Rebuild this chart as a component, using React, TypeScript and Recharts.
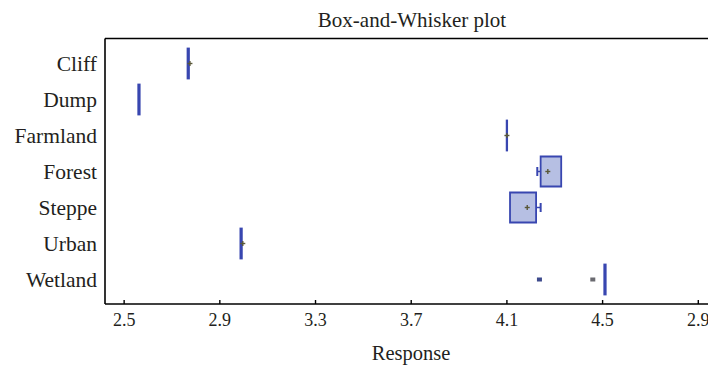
import React from 'react';
import { ComposedChart, Bar, Scatter, XAxis, YAxis } from 'recharts';

// habitat categories, top to bottom
const categories = ['Cliff', 'Dump', 'Farmland', 'Forest', 'Steppe', 'Urban', 'Wetland'];

// box edges (lower / upper quartile)
const q1 = [2.765, 2.559, 4.099, 4.241, 4.113, 2.986, 4.507];
const q3 = [2.771, 2.565, 4.101, 4.327, 4.222, 2.992, 4.513];

// whisker ends (equal to the box edge where no whisker shows)
const whiskerMin = [2.765, 2.559, 4.099, 4.227, 4.113, 2.986, 4.507];
const whiskerMax = [2.771, 2.565, 4.101, 4.327, 4.241, 2.992, 4.513];

// means and outliers
const means = [2.775, null, 4.1, 4.271, 4.185, 2.996, null];
const outlierA = [null, null, null, null, null, null, 4.236];
const outlierB = [null, null, null, null, null, null, 4.459];

const tickValues = [2.5, 2.9, 3.3, 3.7, 4.1, 4.5, 4.9];
const tickLabels = ['2.5', '2.9', '3.3', '3.7', '4.1', '4.5', '2.9'];

const BOX_FILL = '#b6bfe3';
const BOX_STROKE = '#3846b0';
const TEXT = '#231f20';
const FONT = '"Liberation Serif", "Times New Roman", serif';

// stacked segments: invisible base, lower whisker, box, upper whisker
const data = categories.map((name, i) => ({
  name,
  base: whiskerMin[i],
  lowW: q1[i] - whiskerMin[i],
  box: q3[i] - q1[i],
  highW: whiskerMax[i] - q3[i],
  mean: means[i],
  outA: outlierA[i],
  outB: outlierB[i],
}));

const LowWhisker = (props: any) => {
  const { x, y, width, height } = props;
  if (!width || width < 0.5) return <g />;
  const cy = y + height / 2;
  return (
    <g stroke={BOX_STROKE}>
      <line x1={x} x2={x + width} y1={cy} y2={cy} strokeWidth={1.5} />
      <line x1={x} x2={x} y1={cy - 4.5} y2={cy + 4.5} strokeWidth={2} />
    </g>
  );
};

const HighWhisker = (props: any) => {
  const { x, y, width, height } = props;
  if (!width || width < 0.5) return <g />;
  const cy = y + height / 2;
  return (
    <g stroke={BOX_STROKE}>
      <line x1={x} x2={x + width} y1={cy} y2={cy} strokeWidth={1.5} />
      <line x1={x + width} x2={x + width} y1={cy - 4.5} y2={cy + 4.5} strokeWidth={2} />
    </g>
  );
};

const MeanMark = (props: any) => {
  const { cx, cy } = props;
  if (cx == null || cy == null || isNaN(cx)) return <g />;
  return (
    <g stroke="#5a5838" strokeWidth={1.4}>
      <line x1={cx - 2.5} x2={cx + 2.5} y1={cy} y2={cy} />
      <line x1={cx} x2={cx} y1={cy - 2.5} y2={cy + 2.5} />
    </g>
  );
};

const OutlierMark = (props: any) => {
  const { cx, cy, fill } = props;
  if (cx == null || cy == null || isNaN(cx)) return <g />;
  return <rect x={cx - 2.5} y={cy - 2} width={5} height={4} fill={fill} />;
};

const tickStyle = { fill: TEXT, fontFamily: FONT, fontSize: 18 };

export default function App() {
  return (
    <div
      style={{
        position: 'fixed',
        left: 0,
        top: 0,
        width: 708,
        height: 366,
        overflow: 'hidden',
        background: '#fff',
      }}
    >
      <ComposedChart
        width={727}
        height={366}
        layout="vertical"
        data={data}
        margin={{ top: 0, right: 0, bottom: 0, left: 0 }}
        barSize={30}
      >
        <XAxis
          xAxisId="bottom"
          type="number"
          orientation="bottom"
          domain={[2.42, 5.02]}
          allowDataOverflow
          ticks={tickValues}
          tickFormatter={(v: number, i: number) => tickLabels[i]}
          height={62}
          tickSize={-4}
          tickMargin={13}
          axisLine={{ stroke: '#000', strokeWidth: 1.6 }}
          tickLine={{ stroke: '#000', strokeWidth: 1.4 }}
          tick={tickStyle}
          interval={0}
          label={{
            value: 'Response',
            position: 'insideBottom',
            offset: 6,
            dx: -5,
            style: { fill: TEXT, fontFamily: FONT, fontSize: 20.5 },
          }}
        />
        <XAxis
          xAxisId="top"
          type="number"
          orientation="top"
          domain={[2.42, 5.02]}
          allowDataOverflow
          ticks={tickValues}
          height={38.5}
          tickSize={-4}
          tick={false}
          axisLine={{ stroke: '#000', strokeWidth: 1.6 }}
          tickLine={{ stroke: '#000', strokeWidth: 1.4 }}
          interval={0}
          label={{
            value: 'Box-and-Whisker plot',
            position: 'center',
            dx: -4,
            style: { fill: TEXT, fontFamily: FONT, fontSize: 21 },
          }}
        />
        <YAxis
          type="category"
          dataKey="name"
          width={105}
          padding={{ top: 7, bottom: 6.5 }}
          tickLine={false}
          tickSize={0}
          tickMargin={8}
          axisLine={{ stroke: '#000', strokeWidth: 1.6 }}
          tick={{ fill: TEXT, fontFamily: FONT, fontSize: 21.5 }}
          interval={0}
        />
        <Bar xAxisId="bottom" dataKey="base" stackId="b" fill="none" isAnimationActive={false} />
        <Bar xAxisId="bottom" dataKey="lowW" stackId="b" shape={LowWhisker} isAnimationActive={false} />
        <Bar
          xAxisId="bottom"
          dataKey="box"
          stackId="b"
          fill={BOX_FILL}
          stroke={BOX_STROKE}
          strokeWidth={1.8}
          isAnimationActive={false}
        />
        <Bar xAxisId="bottom" dataKey="highW" stackId="b" shape={HighWhisker} isAnimationActive={false} />
        <Scatter xAxisId="bottom" dataKey="mean" shape={MeanMark} isAnimationActive={false} />
        <Scatter xAxisId="bottom" dataKey="outA" fill="#3d4a8c" shape={OutlierMark} isAnimationActive={false} />
        <Scatter xAxisId="bottom" dataKey="outB" fill="#6a6a70" shape={OutlierMark} isAnimationActive={false} />
      </ComposedChart>
    </div>
  );
}
